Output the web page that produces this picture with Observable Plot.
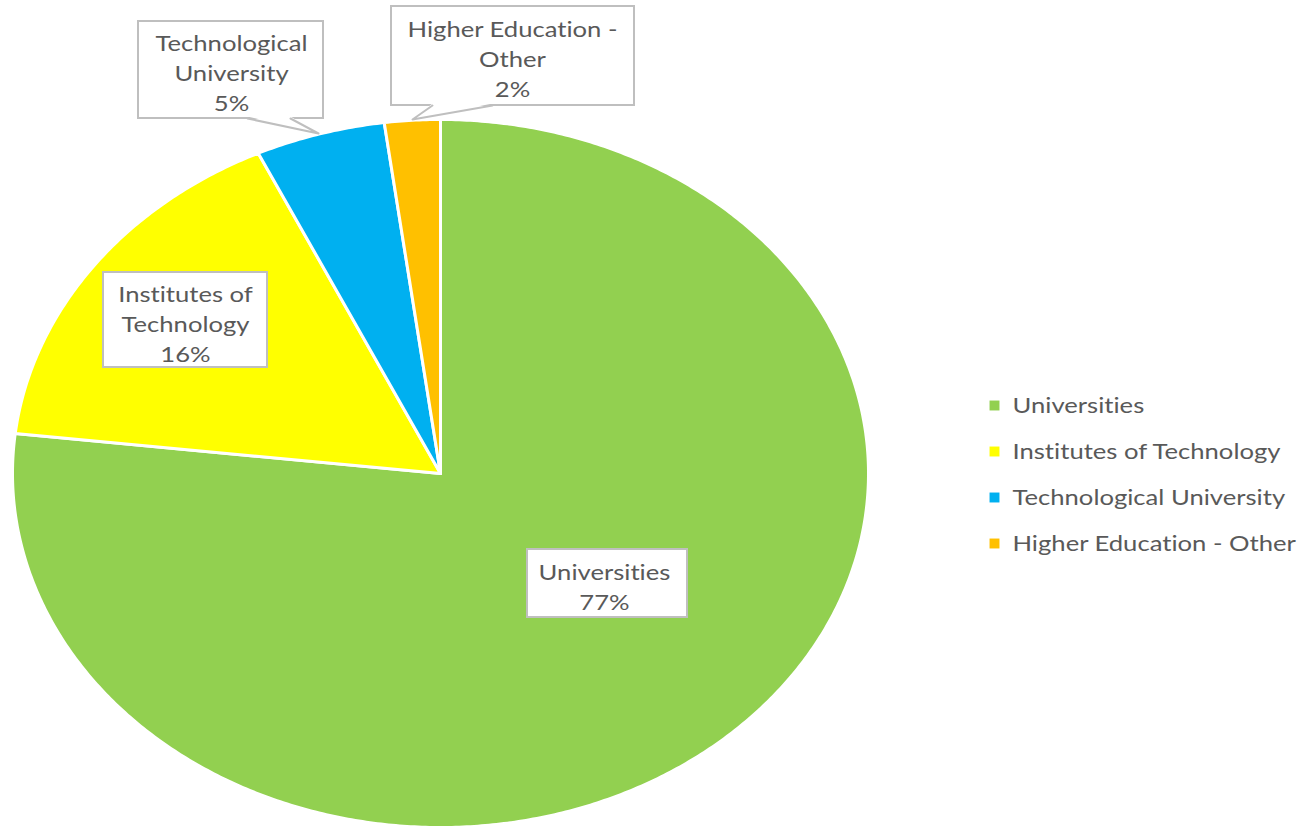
<!DOCTYPE html>
<html>
<head>
<meta charset="utf-8">
<script src="https://cdn.jsdelivr.net/npm/d3@7"></script>
<script src="https://cdn.jsdelivr.net/npm/@observablehq/plot@0.6"></script>
<style>
  html, body { margin: 0; padding: 0; background: #fff; }
  #chart svg { display: block; }
  #chart svg text { font-variant-ligatures: none; }
</style>
</head>
<body>
<div id="chart"></div>
<script>
// ---- Data ----
const categories = ["Universities", "Institutes of Technology", "Technological University", "Higher Education - Other"];
const shares = [76.8, 16.2, 4.9, 2.1];
const percentLabels = ["77%", "16%", "5%", "2%"];
const sliceLabels = ["Universities", "Institutes of\nTechnology", "Technological\nUniversity", "Higher Education -\nOther"];
const colors = ["#92D050", "#FFFF00", "#00B0F0", "#FFC000"];

// ---- Layout (pixels) ----
const W = 1314, H = 828;
const xRange = [12, 868], yRange = [827, 119];
const xS = d3.scaleLinear([-1, 1], xRange);
const yS = d3.scaleLinear([-1, 1], yRange);
// label boxes: [left, top, right, bottom, textCenterX, textCenterY]
const labelBoxes = [
  [527, 549, 687, 617, 604, 585],
  [103, 272, 267, 367, 185, 322],
  [138, 21, 323, 118, 231, 71],
  [391, 6, 634, 105, 512, 57]
];
// callout tails: [baseA, tip, baseB] in pixels (null = none)
const tails = [
  null,
  null,
  [[247, 118], [318, 133], [290, 118]],
  [[432, 105], [412, 119], [492, 105]]
];
const legendY = [405, 451, 497, 543];
const legendSwatchX = 994, legendTextX = 1012;
const FONT = "Lato, 'Open Sans', sans-serif";
const FS = 22;
const STRETCH = 1.165;
const textColor = "#595959";
const boxStroke = "#BFBFBF";

// ---- Pie geometry from the data ----
const arcs = d3.pie().sort(null).value(d => d)(shares);
const slices = arcs.map((a, i) => {
  const pts = [{x: 0, y: 0}];
  const n = Math.max(4, Math.ceil((a.endAngle - a.startAngle) / (Math.PI / 360)));
  for (let k = 0; k <= n; k++) {
    const t = a.startAngle + (a.endAngle - a.startAngle) * k / n;
    pts.push({x: Math.sin(t), y: Math.cos(t)});
  }
  pts.push({x: 0, y: 0});
  return pts;
});

const marks = [];
slices.forEach((pts, i) => {
  marks.push(Plot.line(pts, {x: "x", y: "y", fill: colors[i], stroke: "white", strokeWidth: 3, strokeLinejoin: "round"}));
});

// label boxes
const boxData = labelBoxes.map((b, i) => ({
  x1: xS.invert(b[0]), x2: xS.invert(b[2]), y1: yS.invert(b[3]), y2: yS.invert(b[1]),
  tx: xS.invert(b[4]), ty: yS.invert(b[5]),
  text: sliceLabels[i] + "\n" + percentLabels[i]
}));
marks.push(Plot.rect(boxData, {x1: "x1", x2: "x2", y1: "y1", y2: "y2", fill: "white", stroke: boxStroke, strokeWidth: 2}));

tails.forEach(t => {
  if (!t) return;
  const poly = [
    {x: xS.invert(t[0][0]), y: yS.invert(t[0][1] - 2)},
    {x: xS.invert(t[1][0]), y: yS.invert(t[1][1])},
    {x: xS.invert(t[2][0]), y: yS.invert(t[2][1] - 2)},
    {x: xS.invert(t[0][0]), y: yS.invert(t[0][1] - 2)}
  ];
  marks.push(Plot.line(poly, {x: "x", y: "y", fill: "white", stroke: "none"}));
  marks.push(Plot.line([
    {x: xS.invert(t[0][0]), y: yS.invert(t[0][1])},
    {x: xS.invert(t[1][0]), y: yS.invert(t[1][1])},
    {x: xS.invert(t[2][0]), y: yS.invert(t[2][1])}
  ], {x: "x", y: "y", stroke: boxStroke, strokeWidth: 2}));
});

marks.push(Plot.text(boxData, {
  x: "tx", y: "ty", text: "text", fill: textColor, fontSize: FS,
  lineHeight: 30 / FS, lineAnchor: "middle", textAnchor: "middle", fontFamily: FONT
}));

// legend
const legendData = categories.map((c, i) => ({
  cat: c, sx: xS.invert(legendSwatchX), tx: xS.invert(legendTextX), y: yS.invert(legendY[i]), color: colors[i]
}));
marks.push(Plot.dot(legendData, {x: "sx", y: "y", symbol: "square", r: 5.6, fill: "color", stroke: "none"}));
marks.push(Plot.text(legendData, {x: "tx", y: "y", text: "cat", textAnchor: "start", fill: textColor, fontSize: FS, fontFamily: FONT}));

const chart = Plot.plot({
  width: W, height: H,
  x: {domain: [-1, 1], range: xRange, axis: null},
  y: {domain: [-1, 1], range: yRange, axis: null},
  style: {background: "white", fontFamily: FONT, overflow: "visible"},
  marks
});
// widen the glyphs horizontally around each text anchor (the reference type is horizontally stretched)
chart.querySelectorAll("text").forEach(el => {
  const t = el.getAttribute("transform") || "";
  let x = parseFloat(el.getAttribute("x"));
  if (!isFinite(x)) x = 0;
  el.setAttribute("transform", `${t} translate(${x},0) scale(${STRETCH},1) translate(${-x},0)`.trim());
});
document.getElementById("chart").appendChild(chart);
</script>
</body>
</html>
